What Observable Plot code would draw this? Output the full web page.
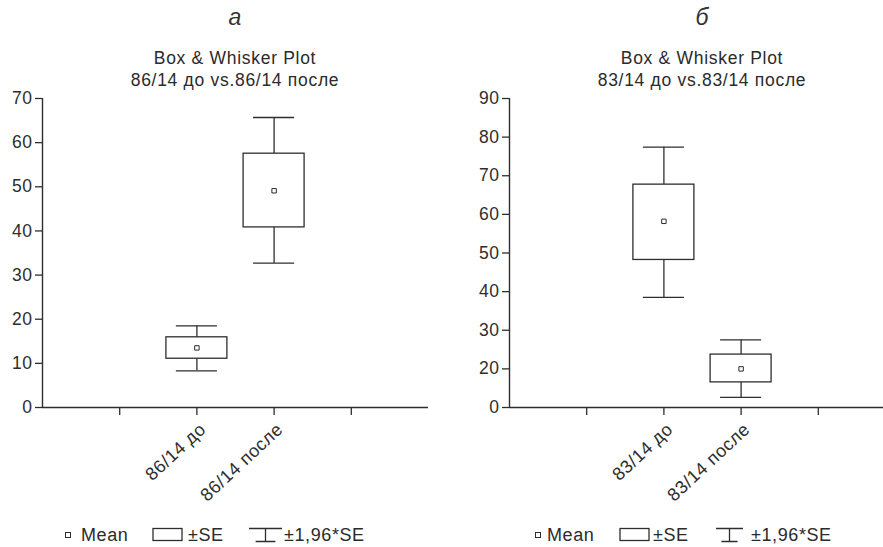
<!DOCTYPE html>
<html>
<head>
<meta charset="utf-8">
<script src="https://cdn.jsdelivr.net/npm/d3@7"></script>
<script src="https://cdn.jsdelivr.net/npm/@observablehq/plot@0.6"></script>
<style>
  html, body { margin: 0; padding: 0; background: #fff; }
  body { font-family: "Liberation Sans", Arial, sans-serif; color: #2b2b2b; }
  #root { position: relative; width: 883px; height: 547px; overflow: hidden; background: #fff; }
  .panel { position: absolute; top: 0; width: 460px; height: 547px; }
  .letter { position: absolute; top: 4px; font-style: italic; font-size: 23px; transform: translateX(-50%); color: #333; }
  .title { position: absolute; top: 47px; font-size: 17.5px; letter-spacing: 0.7px; line-height: 22px; text-align: center; white-space: nowrap; transform: translateX(-50%); }
  .chart { position: absolute; top: 88px; left: 0; }
  .legend { position: absolute; left: 0; top: 524px; width: 460px; height: 22px; font-size: 18px; letter-spacing: 0.6px; white-space: nowrap; }
  .legend span, .legend svg { position: absolute; top: 0; }
  .legend span { line-height: 22px; }
</style>
</head>
<body>
<div id="root"></div>
<script>
// ---- data ----
const panelLetters = ["а", "б"];
const titleLines1 = ["Box & Whisker Plot", "Box & Whisker Plot"];
const titleLines2 = ["86/14 до vs.86/14 после", "83/14 до vs.83/14 после"];

const categoriesA = ["86/14 до", "86/14 после"];
const meanA   = [13.5, 49.1];
const seLowA  = [11.05, 40.8];
const seHighA = [15.9, 57.5];
const ciLowA  = [8.3, 32.7];
const ciHighA = [18.5, 65.7];
const yTicksA = [0, 10, 20, 30, 40, 50, 60, 70];
const yTickLabelsA = ["0", "10", "20", "30", "40", "50", "60", "70"];

const categoriesB = ["83/14 до", "83/14 после"];
const meanB   = [58.2, 20.0];
const seLowB  = [48.2, 16.5];
const seHighB = [67.7, 23.7];
const ciLowB  = [38.5, 12.6];
const ciHighB = [77.4, 27.5];
// the reference's lowest tick on panel б is printed "0" (no "10" label)
const yTicksB = [10, 20, 30, 40, 50, 60, 70, 80, 90];
const yTickLabelsB = ["0", "20", "30", "40", "50", "60", "70", "80", "90"];

const xSlots = [1, 2, 3, 4];          // tick slots on the category axis
const categorySlots = [2, 3];         // slots used by the two groups
const legendLabels = ["Mean", "±SE", "±1,96*SE"];

// ---- drawing ----
const INK = "#2e2e2e";
const FONT = '"Liberation Sans", Arial, sans-serif';

function makePanel(cfg) {
  const rows = cfg.cats.map((c, i) => ({
    cat: c, pos: categorySlots[i], mean: cfg.mean[i],
    seLo: cfg.seLo[i], seHi: cfg.seHi[i], ciLo: cfg.ciLo[i], ciHi: cfg.ciHi[i]
  }));
  const labelOf = d => { const k = categorySlots.indexOf(d); return k >= 0 ? cfg.cats[k] : ""; };
  const boxHalf = 0.395, capHalf = 0.266;
  return Plot.plot({
    width: cfg.width, height: 409,
    marginTop: 10, marginBottom: 90, marginLeft: cfg.marginLeft, marginRight: cfg.marginRight,
    style: { fontFamily: FONT, fontSize: "17.5px", color: INK, background: "transparent", overflow: "visible", letterSpacing: "0.5px" },
    x: { domain: [0, 5], axis: null },
    y: { domain: cfg.yDomain, axis: null },
    marks: [
      Plot.axisY({ ticks: cfg.yTicks, tickFormat: d => cfg.yLabels[cfg.yTicks.indexOf(d)], tickSize: 7, tickPadding: 3, label: null, stroke: INK, strokeWidth: 1.3 }),
      Plot.axisX({ ticks: xSlots, tickSize: 8, tickFormat: () => "", label: null, stroke: INK, strokeWidth: 1.3 }),
      Plot.axisX({ ticks: categorySlots, tickSize: 0, tickFormat: labelOf, tickPadding: 12, tickRotate: -43, label: null, fontSize: "18px", letterSpacing: "0.6px", dx: 6, dy: 7 }),
      Plot.ruleX([0], { y1: cfg.yDomain[0], y2: cfg.yDomain[1], stroke: INK, strokeWidth: 1.4 }),
      Plot.ruleY([cfg.yDomain[0]], { stroke: INK, strokeWidth: 1.4 }),
      // whiskers (±1.96*SE)
      Plot.ruleX(rows, { x: "pos", y1: "seHi", y2: "ciHi", stroke: INK, strokeWidth: 1.3 }),
      Plot.ruleX(rows, { x: "pos", y1: "ciLo", y2: "seLo", stroke: INK, strokeWidth: 1.3 }),
      Plot.ruleY(rows, { y: "ciHi", x1: d => d.pos - capHalf, x2: d => d.pos + capHalf, stroke: INK, strokeWidth: 1.3 }),
      Plot.ruleY(rows, { y: "ciLo", x1: d => d.pos - capHalf, x2: d => d.pos + capHalf, stroke: INK, strokeWidth: 1.3 }),
      // boxes (±SE)
      Plot.rect(rows, { x1: d => d.pos - boxHalf, x2: d => d.pos + boxHalf, y1: "seLo", y2: "seHi", fill: "white", stroke: INK, strokeWidth: 1.3 }),
      // mean
      Plot.dot(rows, { x: "pos", y: "mean", symbol: "square", r: 2.5, fill: "white", stroke: INK, strokeWidth: 1 })
    ]
  });
}

function legendHTML(L) {
  const bw = L.box[1] - L.box[0], ww = L.wh[1] - L.wh[0];
  return `
    <svg width="8" height="22" style="left:${L.sq - 4}px"><rect x="1.5" y="8.5" width="5" height="5" fill="white" stroke="${INK}" stroke-width="1"/></svg>
    <span style="left:${L.t1}px">${legendLabels[0]}</span>
    <svg width="${bw + 3}" height="22" style="left:${L.box[0] - 1}px"><rect x="1" y="4.5" width="${bw}" height="12" fill="white" stroke="${INK}" stroke-width="1.3"/></svg>
    <span style="left:${L.t2}px">${legendLabels[1]}</span>
    <svg width="${ww + 3}" height="22" style="left:${L.wh[0] - 1}px"><path d="M1,4.5H${ww + 1}M${ww / 2 + 1},4.5V17.5M${ww * 0.2 + 1},17.5H${ww * 0.8 + 1}" fill="none" stroke="${INK}" stroke-width="1.3"/></svg>
    <span style="left:${L.t3}px">${legendLabels[2]}</span>`;
}

const root = document.getElementById("root");
const configs = [
  { left: 0, center: 235, width: 441, marginLeft: 42, marginRight: 13,
    legend: { sq: 68, t1: 81, box: [153, 182], t2: 188, wh: [249, 282], t3: 284 },
    cats: categoriesA, mean: meanA, seLo: seLowA, seHi: seHighA, ciLo: ciLowA, ciHi: ciHighA,
    yDomain: [0, 70], yTicks: yTicksA, yLabels: yTickLabelsA },
  { left: 441, center: 261, width: 460, marginLeft: 68, marginRight: 6,
    legend: { sq: 97, t1: 106, box: [179, 208], t2: 212, wh: [275, 302], t3: 310 },
    cats: categoriesB, mean: meanB, seLo: seLowB, seHi: seHighB, ciLo: ciLowB, ciHi: ciHighB,
    yDomain: [10, 90], yTicks: yTicksB, yLabels: yTickLabelsB }
];

configs.forEach((cfg, i) => {
  const p = document.createElement("div");
  p.className = "panel";
  p.style.left = cfg.left + "px";
  p.innerHTML = `
    <div class="letter" style="left:${cfg.center}px">${panelLetters[i]}</div>
    <div class="title" style="left:${cfg.center}px">${titleLines1[i]}<br>${titleLines2[i]}</div>
    <div class="chart"></div>
    <div class="legend">${legendHTML(cfg.legend)}</div>`;
  p.querySelector(".chart").appendChild(makePanel(cfg));
  root.appendChild(p);
});
</script>
</body>
</html>
